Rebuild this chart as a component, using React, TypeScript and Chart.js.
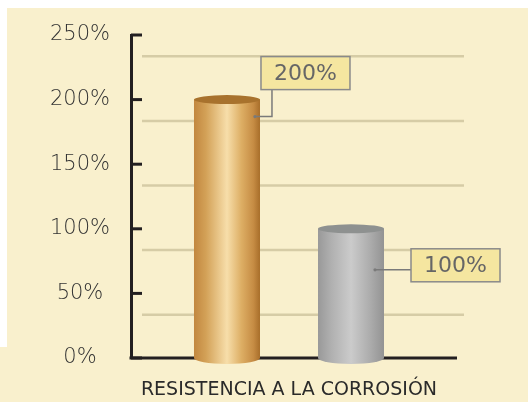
import { useEffect, useRef } from "react";
import { Chart, registerables } from "chart.js";

Chart.register(...registerables);

// ---- data ----
const CATEGORIES = ["RESISTENCIA A LA CORROSIÓN"];
const SERIES_NAMES = ["Serie A", "Serie B"];
const SERIES_A_VALUES = [200];
const SERIES_B_VALUES = [100];
const Y_TICK_VALUES = [0, 50, 100, 150, 200, 250];
const GRID_VALUES = [33.5, 83.5, 133.5, 183.5, 233.5];

// ---- styles ----
const GOLD_STOPS: [number, string][] = [
  [0, "#C2873F"],
  [0.18, "#D3A157"],
  [0.5, "#F7DEAA"],
  [0.72, "#DDAE64"],
  [0.9, "#C68C44"],
  [1, "#A86E2A"],
];
const GRAY_STOPS: [number, string][] = [
  [0, "#999999"],
  [0.2, "#B0B0B0"],
  [0.5, "#CBCBCB"],
  [0.8, "#ABABAB"],
  [1, "#939393"],
];
const CAP_COLORS = ["#A8722D", "#8E9190"];
const STOPS = [GOLD_STOPS, GRAY_STOPS];
const CREAM = "#F9F0CD";
const AXIS = "#231F20";
const GRID = "#D6CCA6";

const cylinderPlugin = {
  id: "cylinders",
  beforeDraw(chart: any) {
    const { ctx, width, height } = chart;
    ctx.save();
    ctx.fillStyle = "#ffffff";
    ctx.fillRect(0, 0, width, height);
    ctx.fillStyle = CREAM;
    ctx.fillRect(7, 8, width - 7, height - 8);
    ctx.fillRect(0, 347, 8, height - 347);
    ctx.restore();
  },
  beforeDatasetsDraw(chart: any) {
    const { ctx, chartArea } = chart;
    const y = chart.scales.y;
    ctx.save();
    // decorative grid lines
    ctx.strokeStyle = GRID;
    ctx.lineWidth = 2.5;
    GRID_VALUES.forEach((v) => {
      const py = y.getPixelForValue(v);
      ctx.beginPath();
      ctx.moveTo(chartArea.left + 11, py);
      ctx.lineTo(chartArea.right + 17, py);
      ctx.stroke();
    });
    // tick marks on the inside of the y axis
    ctx.strokeStyle = AXIS;
    ctx.lineWidth = 3;
    Y_TICK_VALUES.forEach((v) => {
      const py = y.getPixelForValue(v);
      ctx.beginPath();
      ctx.moveTo(chartArea.left, py);
      ctx.lineTo(chartArea.left + 11, py);
      ctx.stroke();
    });
    // x axis line
    ctx.beginPath();
    ctx.moveTo(chartArea.left - 1.5, chartArea.bottom);
    ctx.lineTo(chartArea.right + 10, chartArea.bottom);
    ctx.stroke();
    ctx.restore();
  },
  afterDatasetsDraw(chart: any) {
    const { ctx } = chart;
    chart.data.datasets.forEach((ds: any, di: number) => {
      const meta = chart.getDatasetMeta(di);
      meta.data.forEach((el: any, i: number) => {
        const { x, y, base, width } = el.getProps(["x", "y", "base", "width"], true);
        const left = x - width / 2;
        const right = x + width / 2;
        const rx = width / 2;
        const g = ctx.createLinearGradient(left, 0, right, 0);
        STOPS[di].forEach(([o, c]) => g.addColorStop(o, c));
        ctx.save();
        ctx.fillStyle = g;
        ctx.beginPath();
        ctx.moveTo(left, y);
        ctx.lineTo(left, base);
        ctx.ellipse(x, base, rx, 6, 0, Math.PI, 0, true);
        ctx.lineTo(right, y);
        ctx.closePath();
        ctx.fill();
        // top cap
        ctx.fillStyle = CAP_COLORS[di];
        ctx.beginPath();
        ctx.ellipse(x, y, rx, 4.5, 0, 0, Math.PI * 2);
        ctx.fill();
        ctx.restore();

        // value label box + connector
        const value = ds.data[i];
        const text = `${value}%`;
        const bw = 89;
        const bh = 33;
        let bx: number, by: number;
        ctx.save();
        ctx.strokeStyle = "#7A7A7A";
        ctx.lineWidth = 1.5;
        ctx.fillStyle = "#7A7A7A";
        if (di === 0) {
          bx = right + 1;
          by = y - 10 - bh;
          const cy = y + 17;
          const vx = bx + 11;
          ctx.beginPath();
          ctx.moveTo(right - 5, cy);
          ctx.lineTo(vx, cy);
          ctx.lineTo(vx, by + bh);
          ctx.stroke();
          ctx.beginPath();
          ctx.arc(right - 5, cy, 1.6, 0, Math.PI * 2);
          ctx.fill();
        } else {
          bx = right + 27;
          by = y + 20;
          const cy = y + 41;
          ctx.beginPath();
          ctx.moveTo(right - 9, cy);
          ctx.lineTo(bx, cy);
          ctx.stroke();
          ctx.beginPath();
          ctx.arc(right - 9, cy, 1.6, 0, Math.PI * 2);
          ctx.fill();
        }
        ctx.fillStyle = "#F5E6A0";
        ctx.fillRect(bx, by, bw, bh);
        ctx.strokeStyle = "#8A8A8A";
        ctx.lineWidth = 1.5;
        ctx.strokeRect(bx, by, bw, bh);
        ctx.fillStyle = "#666666";
        ctx.font = "22px 'DejaVu Sans'";
        ctx.textAlign = "center";
        ctx.textBaseline = "middle";
        ctx.fillText(text, bx + bw / 2, by + bh / 2 + 1);
        ctx.restore();
      });
    });
  },
};

export default function App() {
  const ref = useRef<HTMLCanvasElement>(null);
  useEffect(() => {
    if (!ref.current) return;
    const chart = new Chart(ref.current, {
      type: "bar",
      data: {
        labels: CATEGORIES,
        datasets: [
          {
            label: SERIES_NAMES[0],
            data: SERIES_A_VALUES,
            backgroundColor: "#D6A55C",
            categoryPercentage: 0.785,
            barPercentage: 0.532,
          },
          {
            label: SERIES_NAMES[1],
            data: SERIES_B_VALUES,
            backgroundColor: "#B5B5B5",
            categoryPercentage: 0.785,
            barPercentage: 0.532,
          },
        ],
      },
      options: {
        animation: false,
        responsive: false,
        layout: { padding: { left: 0, right: 81, top: 35, bottom: 3 } },
        plugins: { legend: { display: false }, tooltip: { enabled: false } },
        scales: {
          x: {
            grid: { display: false, drawTicks: false },
            border: { display: false },
            afterFit: (s: any) => {
              s.height = 41;
            },
            ticks: {
              padding: 21,
              maxRotation: 0,
              minRotation: 0,
              color: "#2A2A2A",
              font: { family: "'DejaVu Sans'", size: 19 },
            },
          },
          y: {
            min: 0,
            max: 250,
            grid: { display: false, drawTicks: false },
            border: { display: true, color: AXIS, width: 3 },
            afterFit: (s: any) => {
              s.width = 131;
            },
            afterBuildTicks: (s: any) => {
              s.ticks = Y_TICK_VALUES.map((v) => ({ value: v }));
            },
            ticks: {
              crossAlign: "center",
              padding: 21,
              color: "#333333",
              font: { family: "'DejaVu Sans'", size: 21, weight: "200" as any },
              callback: (v: any) => `${v}%`,
            },
          },
        },
      },
      plugins: [cylinderPlugin],
    });
    return () => chart.destroy();
  }, []);
  return (
    <div style={{ position: "fixed", left: 0, top: 0, width: 528, height: 402 }}>
      <canvas ref={ref} width={528} height={402} style={{ display: "block" }} />
    </div>
  );
}
